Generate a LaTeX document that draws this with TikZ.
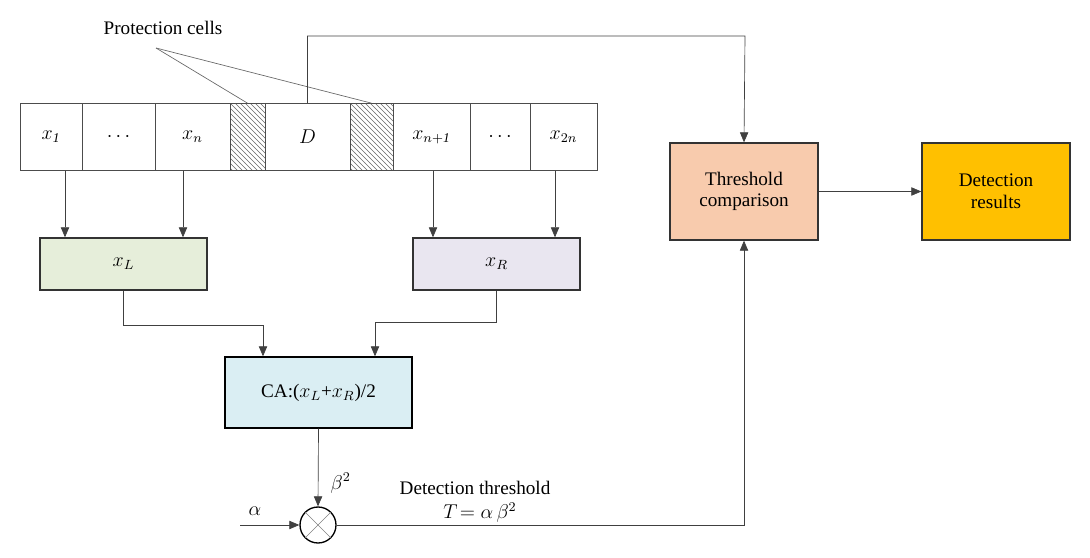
\documentclass[tikz,border=0pt]{standalone}
\usepackage{fontspec}
\setmainfont{Liberation Serif}
\usetikzlibrary{patterns,arrows.meta}
\definecolor{peach}{HTML}{F8CBAD}
\definecolor{gold}{HTML}{FFC000}
\definecolor{lgreen}{HTML}{E6EEDA}
\definecolor{lav}{HTML}{E9E6F0}
\definecolor{lblue}{HTML}{DAEEF3}
\begin{document}
\begin{tikzpicture}[x=0.6pt,y=-0.6pt,font=\fontsize{11.5}{13}\selectfont,
  cell/.style={draw=black!70, minimum height=40.2pt, inner sep=0pt},
  blk/.style={draw, thick, inner sep=0pt, align=center},
  link/.style={draw=black!75},
  arr/.style={link, -{Triangle[length=6pt,width=5pt]}}]

  \useasboundingbox (0,0) rectangle (1090,558);

  % Reference window
  \node[cell, minimum width=37.2pt] (c1) at (51,137) {$x_{\mathit{1}}$};
  \node[cell, minimum width=43.8pt] (c2) at (118.5,137) {$\cdots$};
  \node[cell, minimum width=45pt] (cn) at (192.5,137) {$x_n$};
  \node[cell, minimum width=21pt, pattern=north west lines, pattern color=black!60] (g1) at (247.5,137) {};
  \node[cell, minimum width=51pt] (d) at (307.5,137) {$D$};
  \node[cell, minimum width=25.8pt, pattern=north west lines, pattern color=black!60] (g2) at (371.5,137) {};
  \node[cell, minimum width=46.2pt] (cn1) at (431.5,137) {$x_{n+\mathit{1}}$};
  \node[cell, minimum width=36pt] (c3) at (500,137) {$\cdots$};
  \node[cell, minimum width=40.2pt] (c2n) at (563.5,137) {$x_{2n}$};

  % Protection cells
  \node (prot) at (163,28) {Protection cells};
  \draw[black!60] (156,48) -- (g1.north);
  \draw[black!60] (156,48) -- (g2.north);

  % Left and right sums
  \node[blk, draw=black!80, fill=lgreen, minimum width=100.2pt, minimum height=31.2pt] (xl) at (123.5,264) {$x_L$};
  \node[blk, draw=black!80, fill=lav, minimum width=100.2pt, minimum height=31.2pt] (xr) at (496.5,264) {$x_R$};
  \draw[arr] (c1.south -| 65,0) -- (xl.north -| 65,0);
  \draw[arr] (cn.south -| 183,0) -- (xl.north -| 183,0);
  \draw[arr] (cn1.south -| 433,0) -- (xr.north -| 433,0);
  \draw[arr] (c2n.south -| 555,0) -- (xr.north -| 555,0);

  % CA
  \node[blk, fill=lblue, minimum width=112.2pt, minimum height=42.6pt] (ca) at (318.5,392.5) {CA:($x_L$+$x_R$)/2};
  \draw[arr] (xl.south) |- (263,325) -- (ca.north -| 263,0);
  \draw[arr] (xr.south) |- (375,322) -- (ca.north -| 375,0);

  % Multiplier
  \node[circle, draw, thick, minimum size=21.6pt, inner sep=0pt] (mul) at (318,525) {};
  \draw[black!50] (mul.north west) -- (mul.south east) (mul.north east) -- (mul.south west);
  \draw[arr] (ca.south) -- (mul.north) node[pos=0.7, right=4pt] {$\beta^2$};
  \coordinate (ain) at (240,525);
  \draw[arr] (ain) -- (mul.west) node[pos=0.25, above=2pt] {$\alpha$};

  % Threshold and results
  \node[blk, draw=black!80, fill=peach, minimum width=88.8pt, minimum height=58.2pt] (thr) at (744,191.5) {Threshold\\comparison};
  \node[blk, draw=black!80, fill=gold, minimum width=88.8pt, minimum height=58.2pt] (res) at (996,191.5) {Detection\\results};
  \draw[arr] (thr) -- (res);
  \draw[arr] (d.north) |- (745,36) -- (thr.north);
  \draw[arr] (mul.east) -| (thr.south);
  \node at (475,488) {Detection threshold};
  \node at (480,513) {$T\!=\alpha\,\beta^2$};

\end{tikzpicture}
\end{document}
